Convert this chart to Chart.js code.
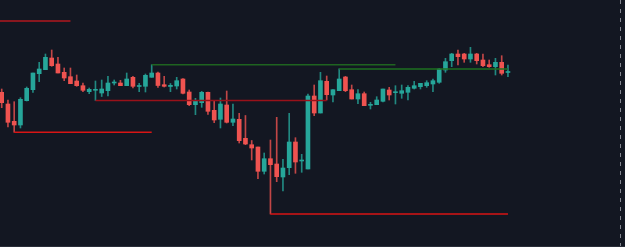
<!DOCTYPE html>
<html>
<head>
<meta charset="utf-8">
<script src="https://cdn.jsdelivr.net/npm/chart.js@4.4.1/dist/chart.umd.min.js"></script>
<style>
  html, body { margin: 0; padding: 0; background: #131722; }
  #wrap { width: 625px; height: 247px; }
</style>
</head>
<body>
<div id="wrap"><canvas id="myChart"></canvas></div>
<script>
  // candles, one per bar slot
  const open = [157.7, 146, 128.7, 125, 149.3, 160.3, 176.3, 180.3, 192, 186,
    177.7, 173.3, 169, 164.3, 158.3, 159.7, 157, 159.3, 167, 167,
    164.3, 172.7, 163.5, 163.7, 172.7, 177, 165.3, 163.5, 164, 171,
    158, 145.3, 147.3, 157.7, 139.7, 130.7, 145, 127.7, 130.7, 111.7,
    105.3, 103, 78.7, 91.3, 86, 73, 82.3, 108, 89, 81,
    154, 137, 168.7, 155, 159.3, 173, 160.3, 151, 156.3, 144.7,
    145.3, 148.7, 160, 157.3, 156.7, 157.7, 161.7, 163.3, 164.3, 166,
    167.7, 180, 189.3, 196, 196, 191, 196, 190, 185.3, 183.3,
    187.7, 177.5];
  const high = [161, 150, 148.3, 152.3, 163, 177, 187.7, 196, 200, 192.7,
    182, 182, 175, 167, 162, 169, 170, 173.7, 170, 169.7,
    177, 173.7, 166.7, 176, 185.3, 178, 173.7, 166.5, 172.7, 171.3,
    160, 151.7, 158.7, 158, 149.3, 152, 159, 146, 136.7, 134.5,
    109.5, 103, 97, 110, 132.7, 90.7, 136.7, 112.3, 95.7, 156,
    165, 177.7, 174, 160.3, 181.2, 173.7, 165, 160.3, 158, 147.7,
    153.3, 161, 162.7, 164.3, 165, 164.3, 168.7, 166.7, 169.3, 171,
    181.7, 191.7, 196.7, 200, 196.7, 202.7, 196.7, 196, 190, 191.7,
    194.3, 185];
  const low = [142.3, 123, 117.7, 122, 149, 157.7, 168.3, 180.3, 183.7, 177,
    169.3, 166.3, 163.7, 158.3, 156.3, 149.5, 153.5, 154, 165, 164.3,
    164.3, 162, 158.3, 158, 172.7, 162.5, 163, 158.3, 161, 156,
    144.3, 135.3, 142.7, 135.5, 127.3, 122, 127, 124.3, 107, 105.3,
    90, 71.3, 76, 36, 68.3, 59, 75.3, 76.7, 77.7, 81,
    134.3, 137, 150, 148, 159.3, 158.3, 151, 146.3, 144.3, 141,
    145.3, 148, 150, 146, 151.7, 150, 161, 161, 162.7, 158.3,
    166.7, 177.7, 183.3, 185, 187.7, 187.7, 186, 183.3, 182.7, 175,
    175, 173.3];
  const close = [147.3, 127.7, 125, 150.7, 161.7, 177, 181, 192.7, 184.3, 177,
    172, 166.3, 164.3, 159.7, 160.7, 160.2, 161, 167, 167.5, 164.3,
    171, 163.7, 164, 174.7, 177, 164.5, 163.7, 164.7, 169.3, 156.7,
    145.3, 149.3, 157.7, 138.7, 130, 146, 127.7, 131, 109.3, 106,
    102, 78.7, 91.3, 85.3, 73.3, 82, 108, 88, 89.5, 154,
    137, 169.3, 155.3, 160.3, 171, 159.3, 151, 156.3, 144.3, 145.3,
    150, 161, 155, 158, 159.3, 162.7, 164.3, 166.7, 167.3, 169.3,
    181, 188.3, 196, 193.3, 191, 196, 189.3, 184.3, 183.3, 187.7,
    176.7, 177.8];

  // horizontal levels: price, first slot, last slot
  const levelPrice = [229, 149.5, 117.7, 36, 185.3, 181];
  const levelFrom = [-0.3, 15, 2, 43, 24, 54];
  const levelTo = [11, 52, 24, 81, 63, 81];
  const levelColor = ['#b2181f', '#99111a', '#d81515', '#d81515', '#1f6420', '#1e7020'];

  const sessionMark = 99;

  const up = '#26a69a';
  const down = '#ef5350';
  const upWick = 'rgba(38,166,154,0.8)';
  const downWick = 'rgba(239,83,80,0.8)';

  const isUp = i => close[i] >= open[i];

  const wicks = high.map((h, i) => ({ x: i, y: [low[i], h] }));
  const bodies = open.map((o, i) => ({ x: i, y: [o, close[i]] }));

  const levelSets = levelPrice.map((p, k) => ({
    type: 'line',
    data: [{ x: levelFrom[k], y: p }, { x: levelTo[k], y: p }],
    borderColor: levelColor[k],
    borderWidth: 1.5,
    pointRadius: 0,
    order: 0
  }));

  const data = {
    datasets: [{
      type: 'bar',
      data: wicks,
      backgroundColor: ctx => isUp(ctx.dataIndex) ? upWick : downWick,
      barThickness: 1,
      grouped: false,
      order: 2
    }, {
      type: 'bar',
      data: bodies,
      backgroundColor: ctx => isUp(ctx.dataIndex) ? up : down,
      barThickness: 4,
      minBarLength: 1,
      grouped: false,
      order: 1
    }, ...levelSets]
  };

  const config = {
    type: 'bar',
    data: data,
    options: {
      responsive: true,
      maintainAspectRatio: false,
      animation: false,
      layout: { padding: { left: 0, right: 0, top: 0, bottom: 1 } },
      plugins: { legend: { display: false }, tooltip: { enabled: false } },
      scales: {
        x: {
          type: 'linear',
          offset: false,
          min: -0.272,
          max: 99.728,
          afterBuildTicks: scale => { scale.ticks = [{ value: sessionMark }]; },
          ticks: { display: false },
          grid: { offset: false, color: 'rgba(150,153,162,0.85)', lineWidth: 1, drawTicks: false },
          border: { display: true, color: '#2a2e39', dash: [4, 5] }
        },
        y: {
          display: false,
          min: 4,
          max: 250
        }
      }
    }
  };

  const myChart = new Chart(
    document.getElementById('myChart'),
    config
  );
</script>
</body>
</html>
